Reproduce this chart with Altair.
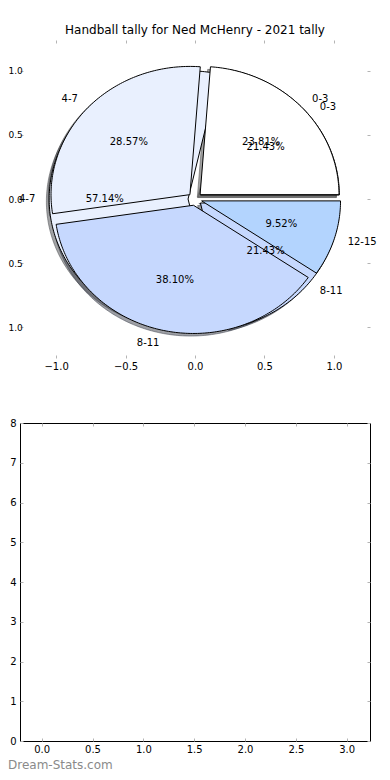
import math
import numpy as np
import pandas as pd
import altair as alt

# ---------------- data ----------------
title_text = "Handball tally for Ned McHenry - 2021 tally"
watermark = "Dream-Stats.com"

labels_a = ["0-3", "4-7", "8-11", "12-15"]
pct_a = [23.81, 28.57, 38.10, 9.52]          # pie drawn on top
labels_b = ["0-3", "4-7", "8-11"]
pct_b = [21.43, 57.14, 21.43]                # pie drawn underneath
wedge_colors = ["#ffffff", "#e9f0fe", "#c6d8fe", "#b3d4fe"]
explode = 0.05

pie_ticks = [-1.0, -0.5, 0.0, 0.5, 1.0]
bottom_xticks = [0.0, 0.5, 1.0, 1.5, 2.0, 2.5, 3.0]
bottom_yticks = [0, 1, 2, 3, 4, 5, 6, 7, 8]

# ---------------- geometry tables ----------------
def shadow_color(hexcol):
    r = int(hexcol[1:3], 16); g = int(hexcol[3:5], 16); b = int(hexcol[5:7], 16)
    return "#%02x%02x%02x" % (int(r * 0.3), int(g * 0.3), int(b * 0.3))

poly_rows, text_rows = [], []
for pie_name, labs, pcts in (("b", labels_b, pct_b), ("a", labels_a, pct_a)):
    start = 0.0
    for i, (lab, p) in enumerate(zip(labs, pcts)):
        t1 = start
        t2 = start + p * 3.6
        start = t2
        mid = math.radians((t1 + t2) / 2)
        ox, oy = explode * math.cos(mid), explode * math.sin(mid)
        key = f"{pie_name}{i}"
        pts = [(ox, oy)]
        n = max(2, int(t2 - t1) + 1)
        for t in np.linspace(t1, t2, n):
            tr = math.radians(t)
            pts.append((ox + math.cos(tr), oy + math.sin(tr)))
        for j, (px, py) in enumerate(pts):
            poly_rows.append(dict(pie=pie_name, key=key, idx=j, x=px, y=py,
                                  sx=px - 0.02, sy=py - 0.02,
                                  col=wedge_colors[i],
                                  scol=shadow_color(wedge_colors[i])))
        lx = ox + 1.1 * math.cos(mid)
        ly = oy + 1.1 * math.sin(mid)
        text_rows.append(dict(x=lx, y=ly, t=lab,
                              kind="left" if lx > 0 else "right"))
        text_rows.append(dict(x=ox + 0.6 * math.cos(mid), y=oy + 0.6 * math.sin(mid),
                              t=f"{p:.2f}%", kind="center"))

poly = pd.DataFrame(poly_rows)
texts = pd.DataFrame(text_rows)

FONT = "DejaVu Sans"
TICK = "#b4b4b4"
xdom_pie = [-1.26, 1.26]
ydom_pie = [-1.24, 1.24]

def ax(orient, values, labels=True, **kw):
    return alt.Axis(orient=orient, values=values, grid=False, domain=False,
                    ticks=True, tickColor=TICK, tickSize=3, tickWidth=1, offset=-3,
                    labels=labels, labelFont=FONT,
                    labelColor="black", labelFlush=False, labelOverlap=False,
                    title=None, **kw)

sx_pie = alt.Scale(domain=xdom_pie, nice=False, zero=False)
sy_pie = alt.Scale(domain=ydom_pie, nice=False, zero=False)

base_poly = alt.Chart(poly)

shadows = base_poly.mark_line(filled=True, interpolate="linear-closed",
                              fillOpacity=0.5, strokeOpacity=0.5,
                              strokeWidth=1).encode(
    x=alt.X("sx:Q", scale=sx_pie,
            axis=ax("bottom", pie_ticks, format=".1f", labelPadding=3,
                    labelFontSize=10)),
    y=alt.Y("sy:Q", scale=sy_pie,
            axis=ax("left", pie_ticks, labelPadding=12, labelAlign="left",
                    labelFontSize=9,
                    labelExpr="format(abs(datum.value), '.1f')")),
    fill=alt.Fill("scol:N", scale=None),
    stroke=alt.Stroke("scol:N", scale=None),
    detail="key:N",
    order=alt.Order("idx:Q"),
)

def wedges(pie_name):
    return base_poly.transform_filter(alt.datum.pie == pie_name).mark_line(
        filled=True, interpolate="linear-closed", stroke="black", strokeWidth=1
    ).encode(
        x=alt.X("x:Q", scale=sx_pie, axis=None),
        y=alt.Y("y:Q", scale=sy_pie, axis=None),
        fill=alt.Fill("col:N", scale=None),
        detail="key:N",
        order=alt.Order("idx:Q"),
    )

tick_df = pd.DataFrame({"v": pie_ticks})
pie_axes2 = alt.Chart(tick_df).mark_point(opacity=0).encode(
    x=alt.X("v:Q", scale=sx_pie, axis=ax("top", pie_ticks, labels=False)),
    y=alt.Y("v:Q", scale=sy_pie, axis=ax("right", pie_ticks, labels=False)),
)

def text_layer(kind, align):
    return alt.Chart(texts).transform_filter(alt.datum.kind == kind).mark_text(
        align=align, baseline="middle", font=FONT, fontSize=10, color="black"
    ).encode(
        x=alt.X("x:Q", scale=sx_pie, axis=None),
        y=alt.Y("y:Q", scale=sy_pie, axis=None),
        text="t:N",
    )

top = alt.layer(
    shadows, pie_axes2, wedges("b"), wedges("a"),
    text_layer("left", "left"), text_layer("right", "right"),
    text_layer("center", "center"),
).resolve_axis(x="independent", y="independent").properties(
    width=350, height=318,
    title=alt.TitleParams(text=title_text, font=FONT, fontSize=12,
                          fontWeight="normal", color="black", anchor="middle",
                          baseline="bottom", offset=-9.5),
)

# ---------------- bottom empty axes ----------------
sx_b = alt.Scale(domain=[-0.213, 3.229], nice=False, zero=False)
sy_b = alt.Scale(domain=[0, 8], nice=False, zero=False)
bx = pd.DataFrame({"v": bottom_xticks})

bx1 = alt.Chart(bx).mark_point(opacity=0).encode(
    x=alt.X("v:Q", scale=sx_b, axis=ax("bottom", bottom_xticks, format=".1f",
                                         labelPadding=3, labelFontSize=10)),
    y=alt.Y("v:Q", scale=sy_b, axis=ax("left", bottom_yticks, format="d",
                                         labelPadding=4, labelFontSize=10)))
bx2 = alt.Chart(bx).mark_point(opacity=0).encode(
    x=alt.X("v:Q", scale=sx_b, axis=ax("top", bottom_xticks, labels=False)),
    y=alt.Y("v:Q", scale=sy_b, axis=ax("right", bottom_yticks, labels=False)))

bottom = alt.layer(bx1, bx2).resolve_axis(
    x="independent", y="independent"
).properties(width=350, height=318,
             view=alt.ViewBackground(stroke="black", strokeWidth=1))

chart = alt.vconcat(top, bottom, spacing=65, bounds="flush").properties(
    padding={"top": 16, "left": 0, "right": 0, "bottom": 0},
    title=alt.TitleParams(text=watermark, orient="bottom", anchor="start",
                          frame="group", font=FONT, fontSize=12,
                          fontWeight="normal", color="#8a8a8a",
                          baseline="top", offset=5, dx=-12),
).configure(font=FONT).configure_view(strokeWidth=0)

chart.save("out.html", embed_options={"renderer": "svg", "actions": False})
